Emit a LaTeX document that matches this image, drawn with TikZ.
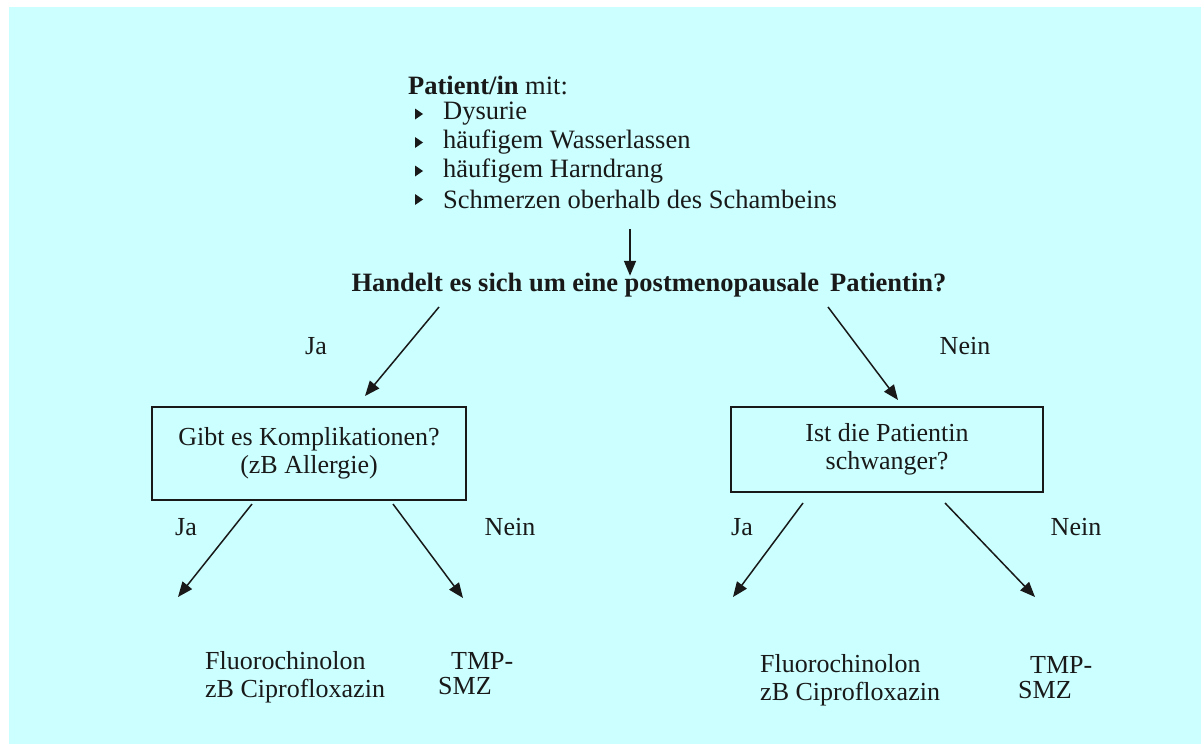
\documentclass[tikz,border=0pt]{standalone}
\usepackage{fontspec}
\setmainfont{Liberation Serif}
\usetikzlibrary{arrows.meta}
\definecolor{bgcyan}{RGB}{204,255,255}
\definecolor{ink}{RGB}{25,25,25}
\begin{document}
\begin{tikzpicture}[x=1pt,y=-1pt,
  txt/.style={inner sep=0pt,text=ink,font=\fontsize{26}{28}\selectfont},
  lbl/.style={txt,anchor=west},
  lst/.style={lbl,font=\fontsize{26.5}{28}\selectfont},
  qbox/.style={draw=ink,line width=1.5pt,txt,align=center},
  conn/.style={draw=ink,line width=1.5pt,-{Triangle[length=15pt,width=12pt]}},
  bul/.style={fill=ink}]
\useasboundingbox (0,0) rectangle (1201,744);
\fill[bgcyan] (9,7) rectangle (1201,744);
% top list
\node[lst] (patient) at (408,85) {\textbf{Patient/in} mit:};
\node[lst] (l1) at (443,114) {Dysurie};
\node[lst] (l2) at (443,142.5) {häufigem Wasserlassen};
\node[lst] (l3) at (443,171) {häufigem Harndrang};
\node[lst] (l4) at (443,199.5) {Schmerzen oberhalb des Schambeins};
\foreach \yy in {114,142.5,171,199.5}{
  \fill[bul] (415,\yy-5.5) -- (423,\yy) -- (415,\yy+5.5) -- cycle;
}
\coordinate (dstart) at (630,229);
\node[txt,font=\fontsize{26.5}{28}\selectfont\bfseries] (q1) at (649,285) {Handelt es sich um eine postmenopausale\, Patientin?};
\draw[conn] (dstart) -- ([yshift=-3pt]q1.north -| dstart);
% boxes
\node[qbox,minimum width=314pt,minimum height=93pt] (bl) at (309,453.5) {Gibt es Komplikationen?\\(zB Allergie)};
\node[qbox,minimum width=312pt,minimum height=85pt] (br) at (887,449.5) {Ist die Patientin\\schwanger?};
\coordinate (a1s) at (439,307); \coordinate (a1e) at (365,396);
\coordinate (a2s) at (828,307); \coordinate (a2e) at (898,400);
\draw[conn] (a1s) -- (a1e);
\draw[conn] (a2s) -- (a2e);
\node[txt] (ja1) at (316,346) {Ja};
\node[txt] (nein1) at (965,346) {Nein};
% results
\node[lbl,align=left] (r1) at (205,677) {Fluorochinolon\\zB Ciprofloxazin};
\node[lbl] (r2a) at (451,661) {TMP-};
\node[lbl] (r2b) at (438,686) {SMZ};
\node[lbl,align=left] (r3) at (760,680) {Fluorochinolon\\zB Ciprofloxazin};
\node[lbl] (r4a) at (1030,665) {TMP-};
\node[lbl] (r4b) at (1018,690) {SMZ};
\coordinate (b1s) at (252,504); \coordinate (b1e) at (178,597);
\coordinate (b2s) at (393,504); \coordinate (b2e) at (463,598);
\coordinate (b3s) at (803,503); \coordinate (b3e) at (733,597);
\coordinate (b4s) at (945,503); \coordinate (b4e) at (1035,597);
\draw[conn] (b1s) -- (b1e);
\draw[conn] (b2s) -- (b2e);
\draw[conn] (b3s) -- (b3e);
\draw[conn] (b4s) -- (b4e);
\node[txt] (ja2) at (186,527) {Ja};
\node[txt] (nein2) at (510,527) {Nein};
\node[txt] (ja3) at (742,527) {Ja};
\node[txt] (nein3) at (1076,527) {Nein};
\end{tikzpicture}
\end{document}
